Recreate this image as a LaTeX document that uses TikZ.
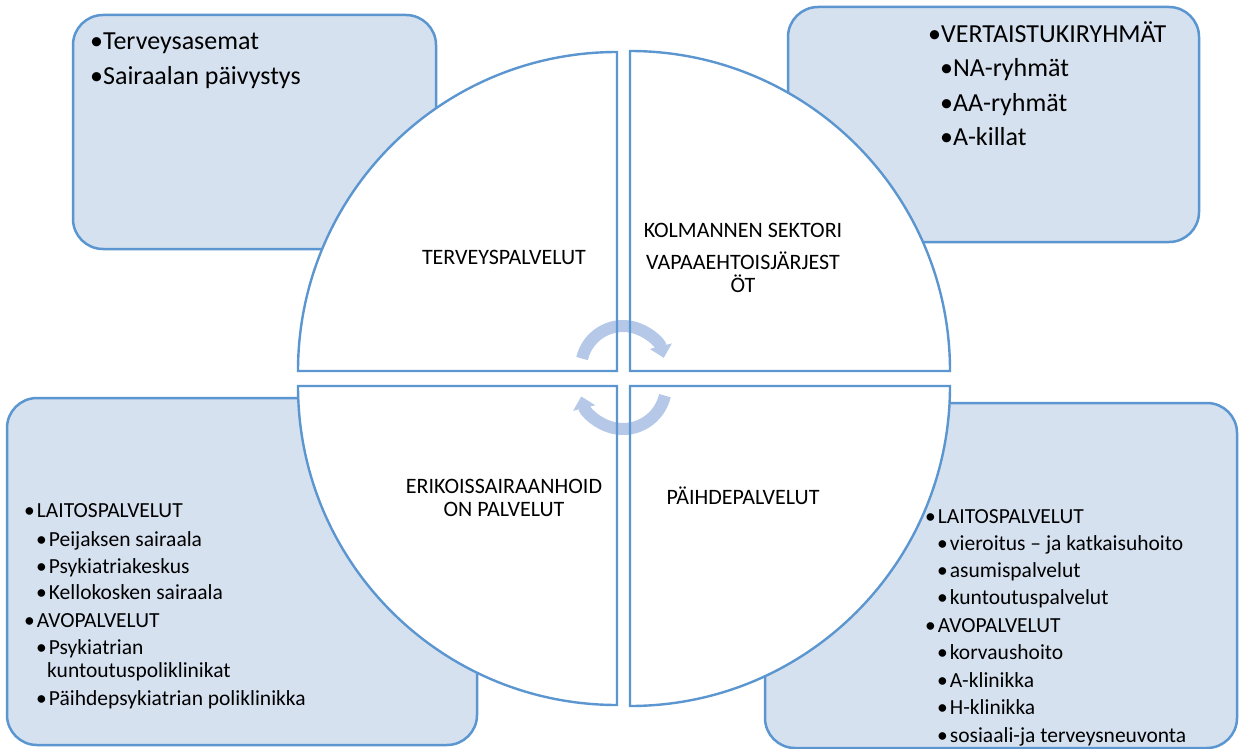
\documentclass[tikz,border=0pt]{standalone}
\usepackage{fontspec}
\setmainfont{Carlito}
\usetikzlibrary{arrows.meta}
\definecolor{boxfill}{RGB}{214,225,240}
\definecolor{boxline}{RGB}{91,150,208}
\definecolor{cyclearrow}{RGB}{181,200,231}
\newcommand{\blt}{•\hspace{2pt}}
\tikzset{
    box/.style={draw=boxline, fill=boxfill, line width=2.5pt, rounded corners=30pt},
    quad/.style={draw=boxline, line width=2.4pt},
    big/.style={anchor=base west, inner sep=0pt, font=\fontsize{26}{30}\selectfont},
    item/.style={anchor=base west, inner sep=0pt, font=\fontsize{21.5}{26}\selectfont},
    sector/.style={anchor=base, inner sep=0pt, font=\fontsize{22}{26}\selectfont},
    cyc/.style={cyclearrow, line width=12pt, -{Triangle[width=22pt,length=12pt]}}
}
\begin{document}
\begin{tikzpicture}[x=1pt, y=-1pt]
            \useasboundingbox (0, 0) rectangle (1239, 749);
            \draw [box] (73, 15) rectangle (436, 249);
            \draw [box] (788, 7) rectangle (1199, 242);
            \draw [box] (7, 398) rectangle (477, 745);
            \draw [box] (765, 403) rectangle (1237, 748);
            \fill [white] (617, 371) -- (298, 371) arc [start angle=180, end angle=270, radius=319] -- cycle;
            \fill [white] (630, 371) -- (630, 51) arc [start angle=270, end angle=360, radius=320] -- cycle;
            \fill [white] (617, 386) -- (298, 386) arc [start angle=180, end angle=90, radius=319] -- cycle;
            \fill [white] (630, 386) -- (950, 386) arc [start angle=0, end angle=90, radius=320] -- cycle;
            \draw [cyc] (623, 368) ++(193:42) arc [start angle=193, end angle=346, radius=42];
            \draw [cyc] (623, 386) ++(13:43) arc [start angle=13, end angle=166, radius=43];
            \draw [quad] (617, 371) -- (298, 371) arc [start angle=180, end angle=270, radius=319] -- cycle;
            \draw [quad] (630, 371) -- (630, 51) arc [start angle=270, end angle=360, radius=320] -- cycle;
            \draw [quad] (617, 386) -- (298, 386) arc [start angle=180, end angle=90, radius=319] -- cycle;
            \draw [quad] (630, 386) -- (950, 386) arc [start angle=0, end angle=90, radius=320] -- cycle;
            \draw (504, 264) node [sector] (terveys) {TERVEYSPALVELUT};
            \draw (743, 237) node [sector] (kolmas) {KOLMANNEN SEKTORI};
            \draw (743, 269) node [sector] (vapaa) {VAPAAEHTOISJÄRJEST};
            \draw (743, 292) node [sector] (vapaab) {ÖT};
            \draw (504, 493) node [sector] (erikois) {ERIKOISSAIRAANHOID};
            \draw (504, 516) node [sector] (erikoisb) {ON PALVELUT};
            \draw (743, 504) node [sector] (paihde) {PÄIHDEPALVELUT};
            \draw (90, 50) node [big] (asemat) {•Terveysasemat};
            \draw (90, 85) node [big] (paivystys) {•Sairaalan päivystys};
            \draw (928, 43) node [big] (vertais) {•VERTAISTUKIRYHMÄT};
            \draw (940, 77) node [big] (na) {•NA-ryhmät};
            \draw (940, 112) node [big] (aa) {•AA-ryhmät};
            \draw (940, 146) node [big] (killat) {•A-killat};
            \draw (24, 517) node [item] (elaitos) {\blt LAITOSPALVELUT};
            \draw (36, 546) node [item] (peijas) {\blt Peijaksen sairaala};
            \draw (36, 573) node [item] (psykkeskus) {\blt Psykiatriakeskus};
            \draw (36, 599) node [item] (kellokoski) {\blt Kellokosken sairaala};
            \draw (24, 627) node [item] (eavo) {\blt AVOPALVELUT};
            \draw (36, 654) node [item] (psykpkl) {\blt Psykiatrian};
            \draw (47, 677) node [item] (psykpklb) {kuntoutuspoliklinikat};
            \draw (36, 705) node [item] (paihdepsyk) {\blt Päihdepsykiatrian poliklinikka};
            \draw (925, 523) node [item] (plaitos) {\blt LAITOSPALVELUT};
            \draw (937, 550) node [item] (vieroitus) {\blt vieroitus – ja katkaisuhoito};
            \draw (937, 577) node [item] (asumis) {\blt asumispalvelut};
            \draw (937, 604) node [item] (kuntoutus) {\blt kuntoutuspalvelut};
            \draw (925, 632) node [item] (pavo) {\blt AVOPALVELUT};
            \draw (937, 659) node [item] (korvaus) {\blt korvaushoito};
            \draw (937, 687) node [item] (aklinikka) {\blt A-klinikka};
            \draw (937, 714) node [item] (hklinikka) {\blt H-klinikka};
            \draw (937, 742) node [item] (neuvonta) {\blt sosiaali-ja terveysneuvonta};
        \end{tikzpicture}
\end{document}
